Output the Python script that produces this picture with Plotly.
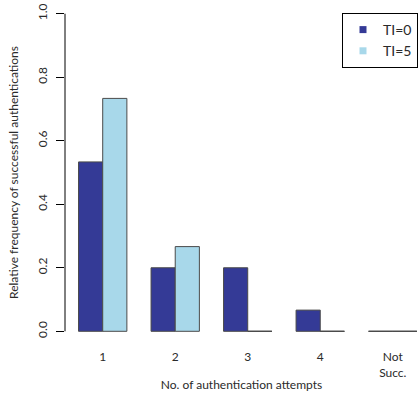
import plotly.graph_objects as go

# Attempt categories and relative frequencies for the two TI settings
categories = ["1", "2", "3", "4", "Not<br>Succ."]
ti0_values = [8 / 15, 3 / 15, 3 / 15, 1 / 15, 0.0]
ti5_values = [11 / 15, 4 / 15, 0.0, 0.0, 0.0]
series_names = ["TI=0", "TI=5"]
series_colors = ["#343a96", "#a8d8ea"]
y_ticks = [0.0, 0.2, 0.4, 0.6, 0.8, 1.0]

FONT = "Lato"
TEXT = "#2a2a2a"
BORDER = "#4a4a4a"

# Side-by-side layout: each group holds two unit-width bars, groups separated by one unit
group_starts = [1 + 3 * i for i in range(len(categories))]
centers = [s + 1 for s in group_starts]

fig = go.Figure()
all_series = [ti0_values, ti5_values]
for k, (vals, name, col) in enumerate(zip(all_series, series_names, series_colors)):
    xs = [s + 0.5 + k for s in group_starts]
    fig.add_trace(go.Bar(
        x=xs, y=vals, width=1, name=name, showlegend=False,
        marker=dict(color=col, line=dict(color=BORDER, width=1)),
    ))
    # zero-height bars collapse to their outline along the baseline
    for x, v in zip(xs, vals):
        if v == 0:
            fig.add_trace(go.Scatter(
                x=[x - 0.5, x + 0.5], y=[v, v], mode="lines", showlegend=False,
                line=dict(color=BORDER, width=1), hoverinfo="skip",
            ))
    # legend entry: filled square key
    fig.add_trace(go.Scatter(
        x=[None], y=[None], mode="markers", name=name,
        marker=dict(symbol="square", size=7, color=col),
    ))

# y axis line spans only the tick range
fig.add_shape(type="line", xref="paper", yref="y", x0=0, x1=0,
              y0=y_ticks[0], y1=y_ticks[-1], line=dict(color="black", width=1))

fig.update_layout(
    width=418, height=394,
    margin=dict(l=65, r=0, t=1, b=50, autoexpand=False),
    paper_bgcolor="white", plot_bgcolor="white",
    barmode="overlay",
    font=dict(family=FONT, size=12, color=TEXT),
    xaxis=dict(
        range=[0.44, 0.44 + 353 / 24.17],
        tickmode="array", tickvals=centers, ticktext=categories,
        showgrid=False, zeroline=False, showline=False, ticks="",
        ticklabelstandoff=4,
        tickfont=dict(size=12),
        title=dict(text="No. of authentication attempts", font=dict(size=12), standoff=2),
    ),
    yaxis=dict(
        range=[-0.04, 1.04],
        tickmode="array", tickvals=y_ticks, ticktext=[f"{t:.1f}" for t in y_ticks],
        tickangle=-90, ticks="outside", ticklen=8, tickcolor="black",
        ticklabelstandoff=4,
        showgrid=False, zeroline=False, showline=False,
        tickfont=dict(size=12),
        title=dict(text="Relative frequency of successful authentications",
                   font=dict(size=12), standoff=14),
    ),
    legend=dict(
        x=1.0, y=0.965, xanchor="right", yanchor="top",
        bordercolor="black", borderwidth=1, bgcolor="white",
        font=dict(family=FONT, size=14, color=TEXT),
        itemwidth=30, tracegroupgap=0,
    ),
)

fig.write_html("out.html")
